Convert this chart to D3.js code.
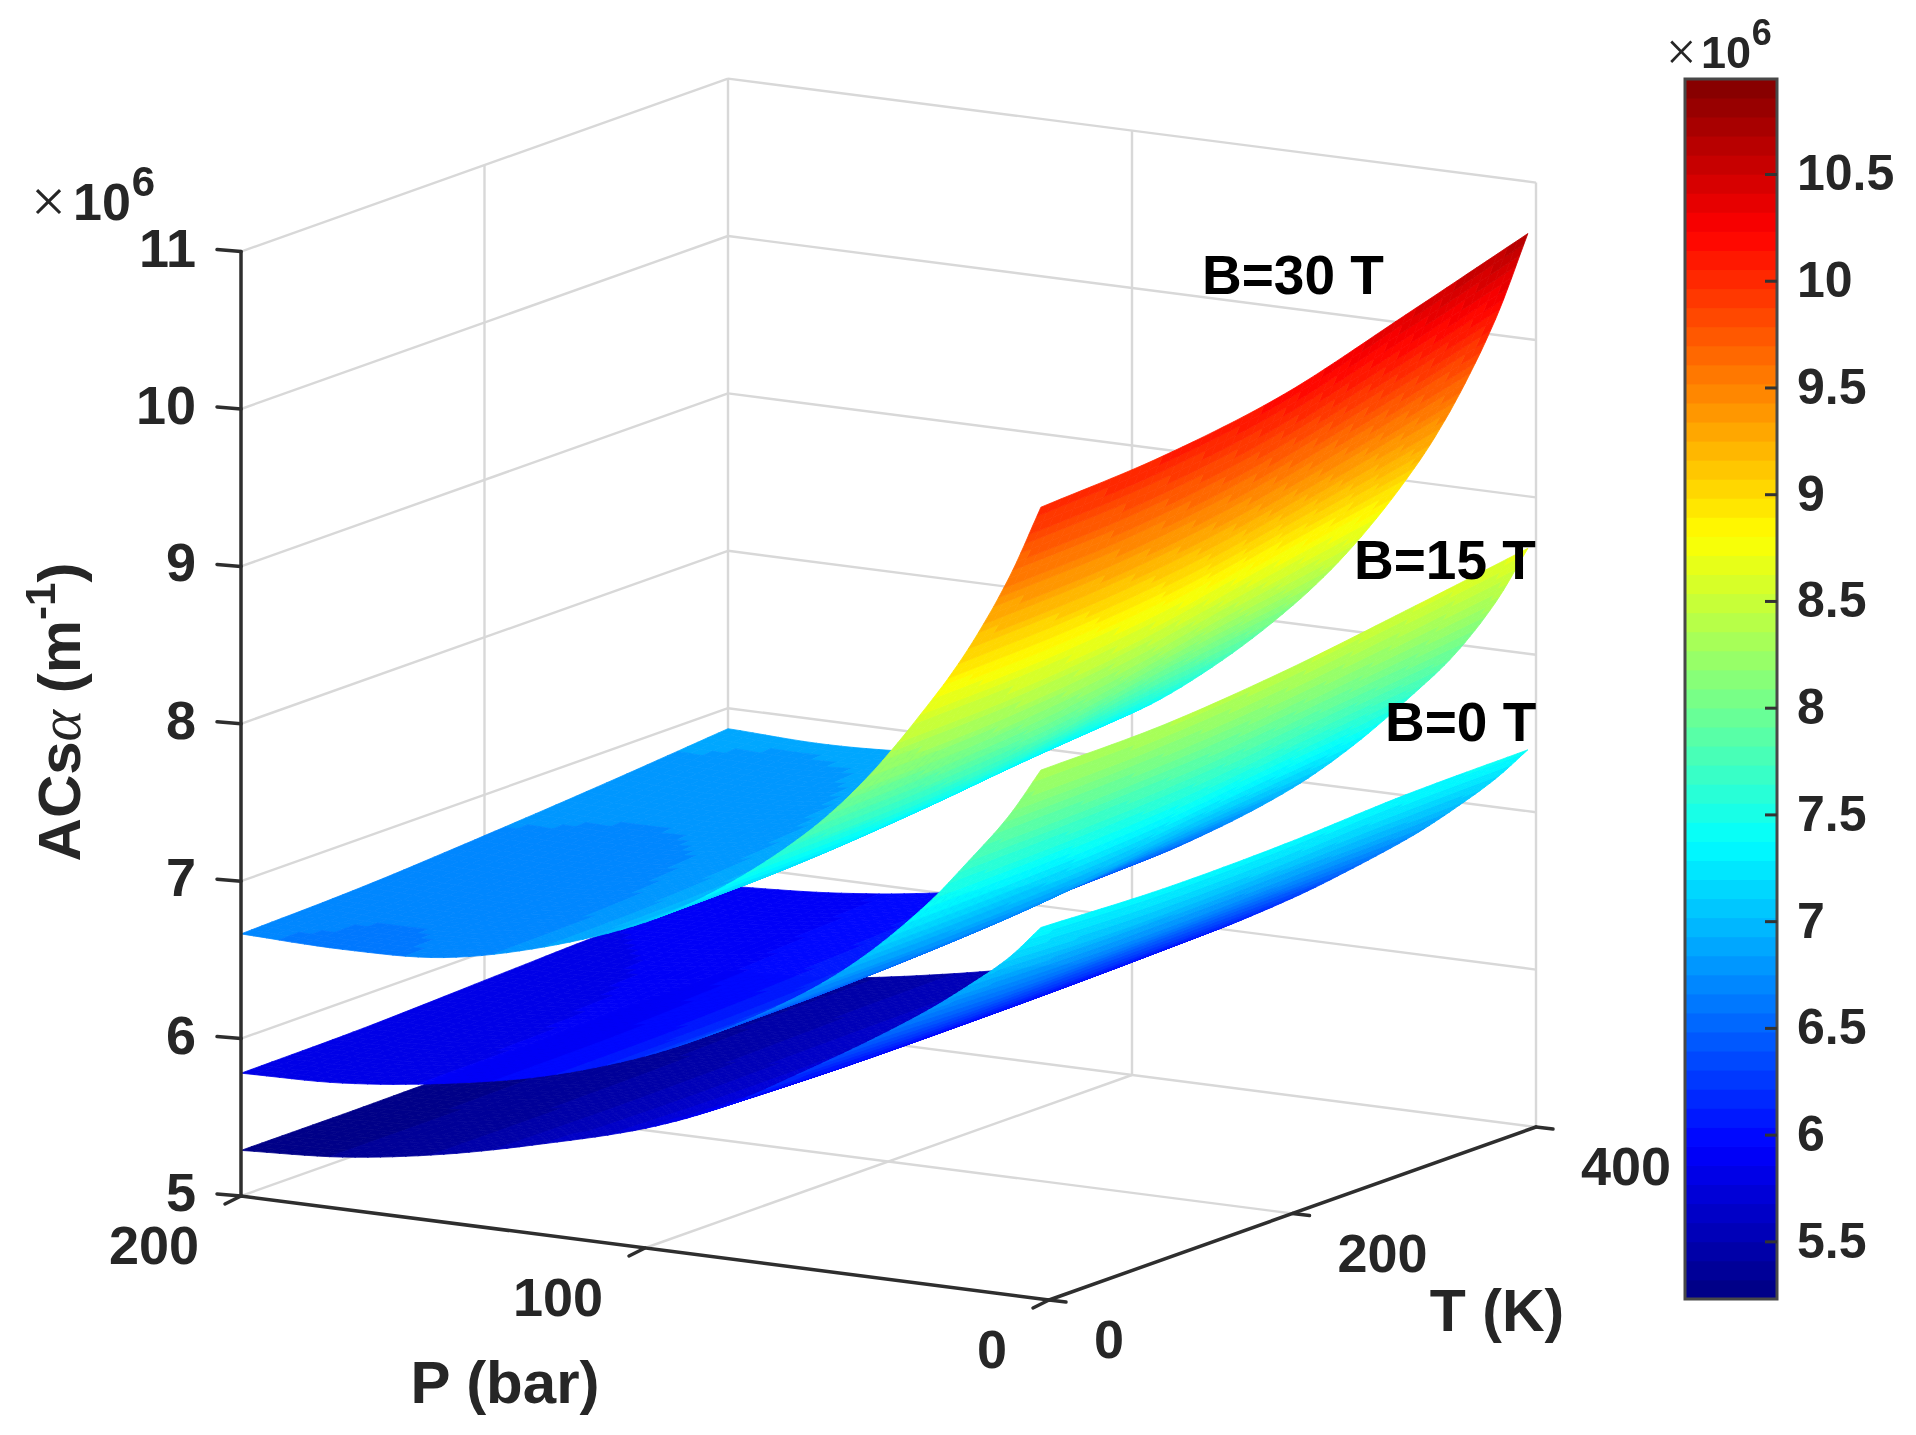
<!DOCTYPE html>
<html>
<head>
<meta charset="utf-8">
<title>ACs alpha surfaces</title>
<script src="https://cdn.jsdelivr.net/npm/d3@7"></script>
<style>
    html, body { margin: 0; padding: 0; background: #fff; }
    svg { display: block; filter: blur(0.6px); }
    text { font-family: "Liberation Sans", Arial, sans-serif; font-weight: bold; fill: #262626; }
    .grid line { stroke: #d8d8d8; stroke-width: 2.4; }
    .axis3d line { stroke: #2e2e2e; stroke-width: 3.5; stroke-linecap: round; }
</style>
</head>
<body>
<svg id="chart" width="1916" height="1435"></svg>
<script>
// Values, z in units of 1e6 1/m
const pressures = [200, 175, 150, 125, 100, 80, 60, 45, 30, 20, 10, 2];
const temperatures = [0, 100, 200, 300, 400];

// one row per pressure, one column per temperature
const surfaceB0 = [
    [5.29, 5.29, 5.30, 5.32, 5.33],
    [5.33, 5.33, 5.34, 5.36, 5.37],
    [5.43, 5.43, 5.44, 5.46, 5.47],
    [5.58, 5.57, 5.58, 5.59, 5.60],
    [5.76, 5.74, 5.74, 5.74, 5.75],
    [5.97, 5.95, 5.95, 5.96, 5.98],
    [6.26, 6.24, 6.24, 6.25, 6.26],
    [6.49, 6.47, 6.48, 6.49, 6.50],
    [6.74, 6.72, 6.72, 6.74, 6.76],
    [6.93, 6.91, 6.92, 6.94, 6.96],
    [7.14, 7.11, 7.12, 7.16, 7.18],
    [7.36, 7.33, 7.34, 7.38, 7.39]
];
const surfaceB15 = [
    [5.78, 5.79, 5.82, 5.85, 5.87],
    [5.80, 5.81, 5.84, 5.88, 5.91],
    [5.88, 5.89, 5.92, 5.96, 5.99],
    [6.01, 6.02, 6.05, 6.09, 6.12],
    [6.22, 6.23, 6.26, 6.31, 6.34],
    [6.46, 6.47, 6.51, 6.58, 6.62],
    [6.76, 6.77, 6.81, 6.90, 6.96],
    [7.05, 7.07, 7.11, 7.20, 7.28],
    [7.42, 7.44, 7.48, 7.57, 7.66],
    [7.72, 7.74, 7.78, 7.86, 7.94],
    [8.04, 8.06, 8.11, 8.20, 8.30],
    [8.36, 8.37, 8.44, 8.55, 8.67]
];
const surfaceB30 = [
    [6.665, 6.69, 6.74, 6.80, 6.87],
    [6.65, 6.67, 6.72, 6.78, 6.85],
    [6.68, 6.70, 6.75, 6.82, 6.89],
    [6.83, 6.85, 6.90, 6.96, 7.02],
    [7.07, 7.09, 7.15, 7.23, 7.30],
    [7.37, 7.39, 7.46, 7.57, 7.66],
    [7.77, 7.80, 7.87, 8.01, 8.12],
    [8.17, 8.20, 8.28, 8.42, 8.55],
    [8.68, 8.71, 8.79, 8.94, 9.09],
    [9.07, 9.11, 9.20, 9.36, 9.54],
    [9.55, 9.59, 9.70, 9.89, 10.10],
    [10.03, 10.08, 10.20, 10.43, 10.67]
];

const zTicks = [5, 6, 7, 8, 9, 10, 11];
const pTicks = [200, 100, 0];
const tTicks = [0, 200, 400];
const colorbarTicks = [5.5, 6, 6.5, 7, 7.5, 8, 8.5, 9, 9.5, 10, 10.5];
const colorLimits = [5.23, 10.945];
const surfaceLabels = ['B=30 T', 'B=15 T', 'B=0 T'];

const svg = d3.select('#chart');

// Oblique projection of the MATLAB view, one scale per screen contribution
const originX = 241;
const pToX = d3.scaleLinear().domain([200, 0]).range([0, 808]);
const pToY = d3.scaleLinear().domain([200, 0]).range([0, 104]);
const tToX = d3.scaleLinear().domain([0, 400]).range([0, 487]);
const tToY = d3.scaleLinear().domain([0, 400]).range([0, -173]);
const zToY = d3.scaleLinear().domain([5, 11]).range([1196, 251.6]);

function project(p, t, z) {
    return [originX + pToX(p) + tToX(t), zToY(z) + pToY(p) + tToY(t)];
}

// jet colormap, 64 levels like the figure
const jet = d3.scaleLinear()
    .domain([0, 0.125, 0.375, 0.625, 0.875, 1])
    .range(['#000080', '#0000ff', '#00ffff', '#ffff00', '#ff0000', '#800000'])
    .clamp(true);
const LEVELS = 64;
const band = d3.scaleQuantize()
    .domain(colorLimits)
    .range(d3.range(LEVELS).map(i => jet((i + 0.5) / LEVELS)));

function segment(g, a, b) {
    g.append('line')
        .attr('x1', a[0]).attr('y1', a[1])
        .attr('x2', b[0]).attr('y2', b[1]);
}

// Back walls and floor grid
const grid = svg.append('g').attr('class', 'grid');
zTicks.forEach(z => {
    segment(grid, project(200, 0, z), project(200, 400, z));
    segment(grid, project(200, 400, z), project(0, 400, z));
});
segment(grid, project(200, 200, 5), project(200, 200, 11));
segment(grid, project(200, 400, 5), project(200, 400, 11));
segment(grid, project(100, 400, 5), project(100, 400, 11));
segment(grid, project(0, 400, 5), project(0, 400, 11));
segment(grid, project(100, 0, 5), project(100, 400, 5));
segment(grid, project(200, 200, 5), project(0, 200, 5));

// Cubic between measured points, tangents from the neighbours on the real axis
function hermite(xs, ys, u) {
    const n = xs.length;
    const i = Math.min(Math.floor(u), n - 2);
    const f = u - i;
    const h = xs[i + 1] - xs[i];
    const slope = k => {
        const a = Math.max(k - 1, 0);
        const b = Math.min(k + 1, n - 1);
        return (ys[b] - ys[a]) / (xs[b] - xs[a]);
    };
    const f2 = f * f, f3 = f2 * f;
    return (2 * f3 - 3 * f2 + 1) * ys[i]
        + (f3 - 2 * f2 + f) * h * slope(i)
        + (-2 * f3 + 3 * f2) * ys[i + 1]
        + (f3 - f2) * h * slope(i + 1);
}

function drawSurface(table) {
    const g = svg.append('g');
    const subP = 8, subT = 12;
    const stepsP = (pressures.length - 1) * subP;
    const stepsT = (temperatures.length - 1) * subT;
    const nodes = d3.range(stepsP + 1).map(i => {
        const uP = i / subP;
        const k = Math.min(Math.floor(uP), pressures.length - 2);
        const p = pressures[k] + (pressures[k + 1] - pressures[k]) * (uP - k);
        const column = temperatures.map((_, c) => hermite(pressures, table.map(r => r[c]), uP));
        return d3.range(stepsT + 1).map(j => {
            const uT = j / subT;
            const t = uT * 100;
            const z = hermite(temperatures, column, uT);
            return { xy: project(p, t, z), z };
        });
    });
    // far to near: high pressure first, high temperature first
    for (let i = 0; i < stepsP; i++) {
        for (let j = stepsT - 1; j >= 0; j--) {
            const cell = [nodes[i][j], nodes[i][j + 1], nodes[i + 1][j + 1], nodes[i + 1][j]];
            const color = band(d3.mean(cell, c => c.z));
            g.append('polygon')
                .attr('points', cell.map(c => c.xy.map(v => v.toFixed(1)).join(',')).join(' '))
                .attr('fill', color)
                .attr('stroke', color)
                .attr('stroke-width', 0.8);
        }
    }
}

drawSurface(surfaceB0);
drawSurface(surfaceB15);
drawSurface(surfaceB30);

// Axes lines and ticks
const axes = svg.append('g').attr('class', 'axis3d');
segment(axes, project(200, 0, 5), project(200, 0, 11));
segment(axes, project(200, 0, 5), project(0, 0, 5));
segment(axes, project(0, 0, 5), project(0, 400, 5));

const tickLabels = svg.append('g').style('font-size', '54px');
zTicks.forEach(z => {
    const a = project(200, 0, z);
    segment(axes, a, [a[0] - 24, a[1] - 2]);
    tickLabels.append('text').attr('x', 196).attr('y', a[1] + 15)
        .attr('text-anchor', 'end').text(z);
});
pTicks.forEach(p => {
    const a = project(p, 0, 5);
    segment(axes, a, [a[0] - 16, a[1] + 8]);
    tickLabels.append('text').attr('x', a[0] - 42).attr('y', a[1] + 68)
        .attr('text-anchor', 'end').text(p);
});
tTicks.forEach(t => {
    const a = project(0, t, 5);
    segment(axes, a, [a[0] + 17, a[1] + 2]);
    tickLabels.append('text').attr('x', a[0] + 45).attr('y', a[1] + 58).text(t);
});

// Axis titles
svg.append('text').attr('x', 505).attr('y', 1403).attr('text-anchor', 'middle')
    .style('font-size', '60px').text('P (bar)');
svg.append('text').attr('x', 1497).attr('y', 1331).attr('text-anchor', 'middle')
    .style('font-size', '59px').text('T (K)');

const zTitle = svg.append('text')
    .attr('transform', 'translate(80,712) rotate(-90)')
    .attr('text-anchor', 'middle')
    .style('font-size', '60px');
zTitle.append('tspan').text('ACs');
zTitle.append('tspan').text('\u03b1')
    .style('font-family', '"Liberation Serif", serif')
    .style('font-style', 'italic')
    .style('font-weight', 'normal');
zTitle.append('tspan').text(' (m');
zTitle.append('tspan').text('-1').attr('dy', -25).style('font-size', '42px');
zTitle.append('tspan').text(')').attr('dy', 25);

// x10^6 multipliers
function multiplier(x, y, timesSize, big, small, gap, rise) {
    svg.append('text').attr('x', x - 2).attr('y', y + 2)
        .style('font-size', timesSize + 'px')
        .style('font-family', '"Liberation Serif", serif')
        .style('font-weight', 'normal').text('\u00d7');
    svg.append('text').attr('x', x + gap).attr('y', y)
        .style('font-size', big + 'px').text('10');
    svg.append('text').attr('x', x + gap + big * 1.13).attr('y', y - rise)
        .style('font-size', small + 'px').text('6');
}
multiplier(33, 220, 62, 52, 42, 40, 24);
multiplier(1668, 68, 54, 45, 36, 33, 23);

// Surface annotations
const labelPlaces = [[1202, 294], [1354, 579], [1385, 741]];
surfaceLabels.forEach((label, i) => {
    svg.append('text').attr('x', labelPlaces[i][0]).attr('y', labelPlaces[i][1])
        .style('font-size', '55px').style('fill', '#000').text(label);
});

// Colorbar
const cbLeft = 1685, cbRight = 1777;
const cbY = d3.scaleLinear().domain(colorLimits).range([1299, 79]);
const cb = svg.append('g');
const levelStep = (colorLimits[1] - colorLimits[0]) / LEVELS;
cb.selectAll('rect.level')
    .data(d3.range(LEVELS))
    .enter()
    .append('rect')
    .attr('class', 'level')
    .attr('x', cbLeft)
    .attr('width', cbRight - cbLeft)
    .attr('y', d => cbY(colorLimits[0] + (d + 1) * levelStep) - 0.4)
    .attr('height', -cbY(colorLimits[0] + levelStep) + cbY(colorLimits[0]) + 0.8)
    .attr('fill', d => jet((d + 0.5) / LEVELS));
cb.append('rect')
    .attr('x', cbLeft).attr('y', 79)
    .attr('width', cbRight - cbLeft).attr('height', 1220)
    .attr('fill', 'none').attr('stroke', '#484848').attr('stroke-width', 3);

const cbAxis = d3.axisRight(cbY)
    .tickValues(colorbarTicks)
    .tickSize(-12)
    .tickSizeOuter(0)
    .tickPadding(21)
    .tickFormat(d => d);
const cbAxisG = svg.append('g')
    .attr('transform', `translate(${cbRight},0)`)
    .call(cbAxis);
cbAxisG.select('.domain').remove();
cbAxisG.selectAll('line').attr('stroke', '#333').attr('stroke-width', 3);
cbAxisG.selectAll('text')
    .attr('x', 20)
    .style('font-size', '50px')
    .style('font-family', '"Liberation Sans", Arial, sans-serif');
cbAxisG.attr('font-size', null).attr('font-family', null);
</script>
</body>
</html>
